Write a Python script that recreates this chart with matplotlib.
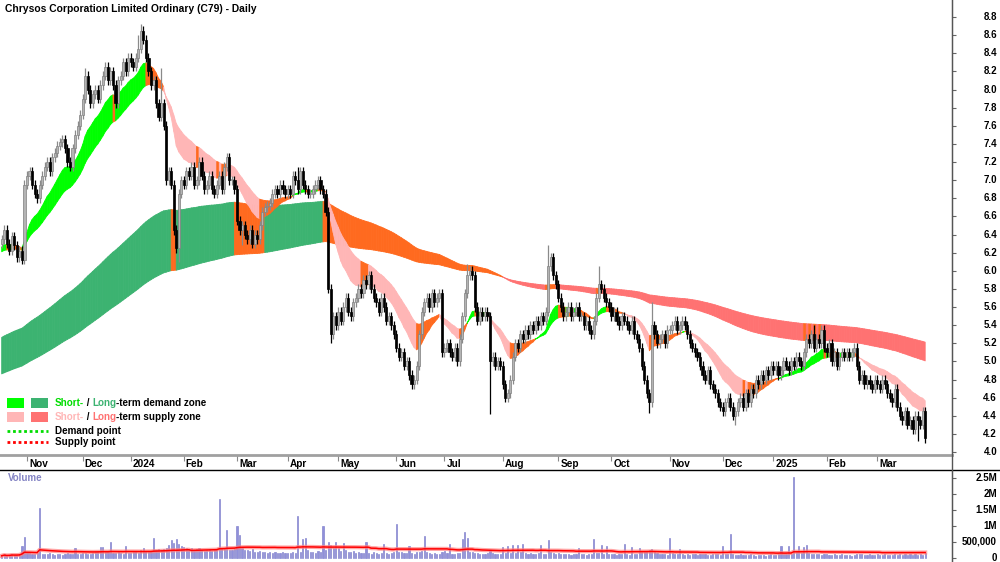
import numpy as np
import pandas as pd
import matplotlib
matplotlib.use("Agg")
import matplotlib.pyplot as plt
import matplotlib.transforms as mtransforms
from matplotlib.collections import PolyCollection
from matplotlib.lines import Line2D
from matplotlib.patches import Rectangle

FONT = ["Liberation Sans", "DejaVu Sans"]
plt.rcParams["font.family"] = FONT

# ---------------- data ----------------
title = "Chrysos Corporation Limited Ordinary (C79) - Daily"

# trading days per month shown (Oct-2023 partial ... Mar-2025 partial)
month_lengths = [10, 22, 19, 21, 21, 20, 20, 23, 19, 23, 22, 21, 23, 21, 20, 21, 20, 20]
month_labels = ["Nov", "Dec", "2024", "Feb", "Mar", "Apr", "May", "Jun", "Jul",
                "Aug", "Sep", "Oct", "Nov", "Dec", "2025", "Feb", "Mar"]

close_oct23 = [6.35, 6.45, 6.30, 6.22, 6.38, 6.28, 6.15, 6.22, 6.12, 6.95]
close_nov23 = [7.05, 7.10, 6.95, 6.85, 6.80, 6.95, 7.05, 7.15, 7.20, 7.10, 7.25,
               7.30, 7.38, 7.42, 7.45, 7.35, 7.20, 7.15, 7.35, 7.50, 7.60, 7.72]
close_dec23 = [7.90, 8.15, 8.00, 7.85, 7.95, 8.00, 7.90, 8.05, 8.15, 8.25, 8.10,
               8.20, 8.05, 7.85, 8.10, 8.15, 8.30, 8.20, 8.35]
close_jan24 = [8.30, 8.25, 8.35, 8.45, 8.65, 8.55, 8.35, 8.20, 8.05, 8.10, 7.85,
               7.70, 7.85, 7.60, 7.00, 7.10, 6.95, 6.45, 6.25, 6.85, 7.00]
close_feb24 = [6.95, 7.10, 7.05, 7.15, 6.95, 7.00, 7.20, 7.05, 6.90, 6.95, 7.05,
               6.90, 6.85, 6.95, 7.05, 6.90, 7.15, 7.25, 7.00, 7.00, 6.90]
close_mar24 = [6.55, 6.45, 6.50, 6.40, 6.35, 6.45, 6.30, 6.40, 6.35, 6.50, 6.65,
               6.70, 6.72, 6.75, 6.85, 6.90, 6.85, 6.95, 6.90, 6.85]
close_apr24 = [6.90, 6.85, 7.05, 7.00, 6.90, 7.10, 6.95, 6.90, 6.85, 6.85, 6.90,
               6.95, 7.00, 6.90, 6.85, 6.65, 5.80, 5.30, 5.50, 5.40]
close_may24 = [5.55, 5.45, 5.60, 5.70, 5.55, 5.50, 5.65, 5.70, 5.80, 5.75, 5.90,
               5.85, 5.95, 5.80, 5.70, 5.65, 5.55, 5.70, 5.60, 5.45, 5.50, 5.40, 5.30]
close_jun24 = [5.15, 5.05, 5.10, 4.95, 5.00, 4.85, 4.75, 4.80, 4.95, 5.30, 5.55,
               5.65, 5.70, 5.60, 5.75, 5.65, 5.70, 5.75, 5.10]
close_jul24 = [5.15, 5.20, 5.10, 5.05, 5.15, 5.00, 5.25, 5.50, 5.75, 5.95, 6.00,
               5.95, 5.60, 5.45, 5.55, 5.50, 5.55, 5.50, 5.00, 5.05, 4.95, 5.00, 4.95]
close_aug24 = [4.75, 4.60, 4.65, 4.80, 5.05, 5.20, 5.15, 5.30, 5.25, 5.35, 5.30,
               5.40, 5.35, 5.45, 5.40, 5.50, 5.45, 5.55, 6.05, 6.15, 5.95, 5.85]
close_sep24 = [5.70, 5.60, 5.50, 5.55, 5.60, 5.50, 5.55, 5.60, 5.50, 5.50, 5.40,
               5.45, 5.35, 5.30, 5.45, 5.70, 5.85, 5.80, 5.70, 5.65, 5.60]
close_oct24 = [5.50, 5.55, 5.45, 5.40, 5.50, 5.45, 5.40, 5.35, 5.45, 5.30, 5.25,
               5.15, 4.95, 4.80, 4.65, 4.55, 5.40, 5.30, 5.20, 5.25, 5.30, 5.20, 5.35]
close_nov24 = [5.35, 5.40, 5.45, 5.35, 5.40, 5.45, 5.40, 5.30, 5.20, 5.15, 5.10,
               5.05, 4.95, 4.85, 4.80, 4.90, 4.75, 4.70, 4.65, 4.55, 4.50]
close_dec24 = [4.45, 4.55, 4.60, 4.50, 4.40, 4.45, 4.55, 4.60, 4.50, 4.65, 4.55,
               4.70, 4.65, 4.80, 4.75, 4.85, 4.80, 4.90, 4.85, 4.95]
close_jan25 = [4.90, 4.95, 4.85, 4.90, 5.00, 4.95, 4.90, 5.00, 4.95, 5.05, 5.00,
               4.95, 5.10, 5.25, 5.20, 5.30, 5.15, 5.25, 5.20, 5.35, 5.15]
close_feb25 = [5.10, 5.20, 5.00, 5.10, 4.95, 5.05, 5.10, 5.05, 5.10, 5.05, 5.10,
               5.15, 4.95, 4.80, 4.85, 4.75, 4.80, 4.75, 4.70, 4.80]
close_mar25 = [4.75, 4.70, 4.80, 4.75, 4.65, 4.60, 4.55, 4.70, 4.50, 4.40, 4.35,
               4.45, 4.30, 4.35, 4.25, 4.40, 4.35, 4.30, 4.45, 4.15]
first_open = 6.30

wick_highs = {55: 8.72, 54: 8.60, 63: 8.24, 89: 7.30, 117: 7.15, 184: 6.08,
              216: 6.28, 217: 6.20, 236: 6.05, 257: 5.66, 321: 5.40, 324: 5.40,
              364: 4.48, 33: 8.24}
wick_lows = {70: 6.10, 130: 5.20, 163: 4.70, 193: 4.42, 199: 4.56, 256: 4.43,
             290: 4.30, 362: 4.12, 365: 4.10, 95: 6.28, 99: 6.25}

# volume, thousands of shares
vol_oct23 = [70, 110, 60, 90, 130, 80, 100, 120, 375, 660]
vol_nov23 = [180, 150, 130, 120, 160, 1550, 140, 110, 130, 150, 120, 100, 140,
             130, 90, 110, 150, 120, 130, 300, 140, 120]
vol_dec23 = [150, 170, 120, 140, 160, 200, 180, 350, 330, 190, 210, 500, 170,
             160, 180, 150, 140, 380, 170]
vol_jan24 = [160, 190, 210, 170, 250, 300, 220, 200, 230, 620, 260, 280, 240,
             270, 300, 420, 550, 480, 600, 450, 380]
vol_feb24 = [350, 300, 280, 320, 250, 270, 300, 240, 220, 260, 280, 230, 250,
             270, 1840, 300, 280, 870, 260, 240, 280]
vol_mar24 = [1000, 720, 300, 260, 240, 220, 280, 200, 190, 210, 180, 200, 170,
             190, 160, 180, 150, 170, 200, 160]
vol_apr24 = [170, 150, 190, 160, 1300, 200, 600, 620, 250, 180, 200, 170, 220,
             190, 1000, 260, 500, 400, 300, 500]
vol_may24 = [300, 220, 470, 250, 200, 180, 220, 160, 190, 170, 150, 500, 160,
             140, 180, 150, 130, 160, 450, 170, 140, 160, 180]
vol_jun24 = [1060, 200, 180, 150, 170, 370, 160, 140, 180, 200, 220, 690, 180,
             150, 130, 160, 140, 120, 200]
vol_jul24 = [220, 160, 450, 140, 130, 150, 170, 590, 810, 620, 200, 180, 150,
             160, 130, 120, 140, 150, 250, 160, 130, 120, 140]
vol_aug24 = [340, 150, 380, 160, 420, 170, 400, 180, 450, 150, 140, 160, 130,
             120, 150, 400, 140, 130, 560, 200, 160, 140]
vol_sep24 = [150, 130, 120, 110, 140, 100, 120, 130, 300, 110, 120, 100, 130,
             140, 590, 150, 160, 400, 140, 370, 130]
vol_oct24 = [120, 110, 100, 130, 120, 440, 110, 100, 340, 120, 130, 300, 200,
             180, 220, 250, 280, 200, 150, 130, 120, 110, 100]
vol_nov24 = [620, 150, 130, 120, 280, 110, 100, 120, 90, 110, 130, 100, 120,
             140, 110, 100, 90, 120, 130, 110, 100]
vol_dec24 = [370, 120, 110, 750, 130, 100, 90, 110, 80, 100, 90, 120, 80, 70,
             90, 100, 80, 60, 90, 110]
vol_jan25 = [100, 90, 110, 370, 120, 130, 360, 140, 2530, 200, 370, 150, 330,
             420, 160, 140, 120, 130, 110, 100, 120]
vol_feb25 = [110, 100, 90, 120, 80, 100, 110, 90, 80, 100, 70, 90, 110, 130,
             120, 100, 90, 110, 80, 100]
vol_mar25 = [110, 90, 100, 120, 90, 80, 100, 110, 90, 130, 100, 120, 90, 110,
             100, 120, 90, 110, 100, 150]

price_ticks = [4.0, 4.2, 4.4, 4.6, 4.8, 5.0, 5.2, 5.4, 5.6, 5.8, 6.0, 6.2, 6.4,
               6.6, 6.8, 7.0, 7.2, 7.4, 7.6, 7.8, 8.0, 8.2, 8.4, 8.6, 8.8]
vol_ticks = [0, 500000, 1000000, 1500000, 2000000, 2500000]
vol_tick_labels = ["0", "500,000", "1M", "1.5M", "2M", "2.5M"]

# indicator settings (EMA spans and starting values from the visible left edge)
short_spans = (15, 30)
short_seed = (6.25, 6.20)
long_spans = (150, 250)
long_seed = (5.25, 4.85)
vol_ma_window = 60

# ---------------- assemble ----------------
closes = np.array(close_oct23 + close_nov23 + close_dec23 + close_jan24 + close_feb24
                  + close_mar24 + close_apr24 + close_may24 + close_jun24 + close_jul24
                  + close_aug24 + close_sep24 + close_oct24 + close_nov24 + close_dec24
                  + close_jan25 + close_feb25 + close_mar25)
volume = np.array(vol_oct23 + vol_nov23 + vol_dec23 + vol_jan24 + vol_feb24 + vol_mar24
                  + vol_apr24 + vol_may24 + vol_jun24 + vol_jul24 + vol_aug24 + vol_sep24
                  + vol_oct24 + vol_nov24 + vol_dec24 + vol_jan25 + vol_feb25
                  + vol_mar25) * 1000.0
n = len(closes)
idx = np.arange(n)
opens = np.concatenate([[first_open], closes[:-1]])
body_top = np.maximum(opens, closes)
body_bot = np.minimum(opens, closes)
WICK = 0.05
highs = body_top + WICK
lows = body_bot - WICK
for k, v in wick_highs.items():
    highs[k] = max(highs[k], v)
for k, v in wick_lows.items():
    lows[k] = min(lows[k], v)

month_starts = np.cumsum(month_lengths)[:-1]


def ema(values, span, seed):
    a = 2.0 / (span + 1.0)
    out = np.empty(len(values))
    e = seed
    for i, v in enumerate(values):
        e = e + a * (v - e)
        out[i] = e
    return out


s_fast = ema(closes, short_spans[0], short_seed[0])
s_slow = ema(closes, short_spans[1], short_seed[1])
l_fast = ema(closes, long_spans[0], long_seed[0])
l_slow = ema(closes, long_spans[1], long_seed[1])

C_SDEM = "#00FF00"
C_LDEM = "#3CB371"
C_SSUP = "#FFB6B6"
C_LSUP = "#FF7272"
C_ORNG = "#FF6A1F"

# ---------------- figure ----------------
W, H = 1000, 562
fig = plt.figure(figsize=(W / 100, H / 100), dpi=100)
fig.patch.set_facecolor("white")
ax = fig.add_axes([0, 1 - 455 / H, 952 / W, 455 / H])
axv = fig.add_axes([0, 0, 952 / W, 92 / H])

XMIN, XMAX = -0.67, 375.6


def band(axis, fast, slow, up_col, down_col):
    polys, cols = [], []
    for i in range(1, n):
        if fast[i] >= slow[i]:
            c = up_col if fast[i] >= fast[i - 1] else C_ORNG
        else:
            c = down_col if fast[i] <= fast[i - 1] else C_ORNG
        polys.append([(i - 1, fast[i - 1]), (i, fast[i]), (i, slow[i]), (i - 1, slow[i - 1])])
        cols.append(c)
    pc = PolyCollection(polys, facecolors=cols, edgecolors=cols, linewidths=0.6, zorder=1)
    axis.add_collection(pc)


band(ax, l_fast, l_slow, C_LDEM, C_LSUP)
band(ax, s_fast, s_slow, C_SDEM, C_SSUP)

# candles
up = closes >= opens
ax.vlines(idx[up], lows[up], highs[up], color="#8A8A8A", linewidth=0.9, zorder=3)
ax.vlines(idx[~up], lows[~up], highs[~up], color="#000000", linewidth=0.9, zorder=3)
heights = np.maximum(body_top - body_bot, 0.012)
ax.bar(idx[up], heights[up], bottom=body_bot[up], width=0.85, color="#B4B4B4",
       edgecolor="#808080", linewidth=0.5, zorder=4)
ax.bar(idx[~up], heights[~up], bottom=body_bot[~up], width=0.85, color="#000000",
       edgecolor="#000000", linewidth=0.5, zorder=4)

ax.set_xlim(XMIN, XMAX)
ax.set_ylim(3.967, 8.988)
for s in ["top", "left"]:
    ax.spines[s].set_visible(False)
ax.spines["bottom"].set_color("#A0A0A0")
ax.spines["bottom"].set_linewidth(2)
ax.spines["right"].set_color("#555555")

ax.yaxis.tick_right()
ax.set_yticks(price_ticks)
ax.tick_params(axis="y", direction="out", length=3, width=0.8, color="#666666",
               labelright=False, labelleft=False)
ytr = mtransforms.blended_transform_factory(ax.transAxes, ax.transData)
for v in price_ticks:
    ax.text(997 / 952, v, f"{v:.1f}", transform=ytr, ha="right", va="center",
            fontsize=7, fontweight="bold", clip_on=False)

ax.set_xticks(month_starts)
ax.set_xticklabels(month_labels)
ax.tick_params(axis="x", direction="out", length=4, width=0.8, color="#888888",
               pad=-1, labelsize=7.2)
shift = mtransforms.ScaledTranslation(0.02, 0, fig.dpi_scale_trans)
for lbl in ax.get_xticklabels():
    lbl.set_horizontalalignment("left")
    lbl.set_fontweight("bold")
    lbl.set_transform(lbl.get_transform() + shift)

# volume panel
axv.bar(idx, volume, width=0.45, color="#9090DA", edgecolor="#7575C8", linewidth=0.4, zorder=2)
vma = pd.Series(volume).rolling(vol_ma_window, min_periods=1).mean().to_numpy()
axv.plot(idx, vma, color="#FF8080", linewidth=3, alpha=0.7, zorder=3)
axv.plot(idx, vma, color="#FF0000", linewidth=1.1, zorder=4)
axv.set_xlim(XMIN, XMAX)
axv.set_ylim(-125000, 2750000)
for s in ["top", "left", "bottom"]:
    axv.spines[s].set_visible(False)
axv.spines["right"].set_color("#555555")
axv.set_xticks([])
axv.yaxis.tick_right()
axv.set_yticks(vol_ticks)
axv.tick_params(axis="y", direction="out", length=3, width=0.8, color="#666666",
                labelright=False, labelleft=False)
vtr = mtransforms.blended_transform_factory(axv.transAxes, axv.transData)
for v, lab in zip(vol_ticks, vol_tick_labels):
    axv.text(997 / 952, v, lab, transform=vtr, ha="right", va="center",
             fontsize=7, fontweight="bold", clip_on=False)

# frame lines
fig.add_artist(Line2D([0, 1], [1 - 470 / H, 1 - 470 / H], transform=fig.transFigure,
                      color="#000000", linewidth=1))
fig.add_artist(Line2D([952 / W, 952 / W], [0, 1], transform=fig.transFigure,
                      color="#555555", linewidth=1))

# texts
fig.text(5 / W, 1 - 9 / H, title, fontsize=7.4, fontweight="bold", va="center", ha="left")
fig.text(8 / W, 1 - 478 / H, "Volume", fontsize=7, fontweight="bold", color="#8484C4",
         va="center", ha="left")

fig.canvas.draw()
renderer = fig.canvas.get_renderer()


def pieces(x_px, y_px, parts, size=7.1):
    x = x_px
    for txt, col in parts:
        t = fig.text(x / W, 1 - y_px / H, txt, color=col, fontsize=size,
                     fontweight="bold", va="center", ha="left")
        x += t.get_window_extent(renderer).width


def square(x, y, w, h, col):
    fig.add_artist(Rectangle((x / W, 1 - (y + h) / H), w / W, h / H,
                             transform=fig.transFigure, facecolor=col, edgecolor="none"))


square(7, 398, 17, 10, C_SDEM)
square(31, 398, 17, 10, C_LDEM)
square(7, 412, 17, 10, C_SSUP)
square(31, 412, 17, 10, C_LSUP)
pieces(55, 403, [("Short-", "#00DD00"), (" / ", "#000000"), ("Long", C_LDEM),
                 ("-term demand zone", "#000000")])
pieces(55, 417, [("Short-", C_SSUP), (" / ", "#000000"), ("Long", C_LSUP),
                 ("-term supply zone", "#000000")])
fig.add_artist(Line2D([7 / W, 48 / W], [1 - 431 / H, 1 - 431 / H], transform=fig.transFigure,
                      color="#00DD00", linewidth=2, linestyle=(0, (1, 1))))
fig.add_artist(Line2D([7 / W, 48 / W], [1 - 442 / H, 1 - 442 / H], transform=fig.transFigure,
                      color="#FF0000", linewidth=2, linestyle=(0, (1, 1))))
pieces(55, 431, [("Demand point", "#000000")])
pieces(55, 442, [("Supply point", "#000000")])

fig.savefig("out.png", dpi=100, facecolor="white")
